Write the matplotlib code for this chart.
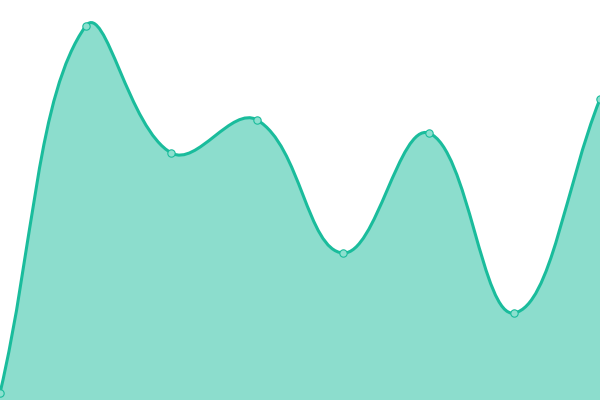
import numpy as np
import matplotlib
matplotlib.use("Agg")
import matplotlib.pyplot as plt
from matplotlib.path import Path
from matplotlib.patches import PathPatch

labels = ["A", "B", "C", "D", "E", "F", "G", "H"]
values = [7, 374, 247, 280, 147, 267, 87, 301]

LINE = "#1abc9c"
FILL = (26/255, 188/255, 156/255, 0.5)
TENSION = 0.4

W, H = 600, 400
fig = plt.figure(figsize=(6, 4), dpi=100)
ax = fig.add_axes([0, 0, 1, 1])
ax.set_xlim(0, W)
ax.set_ylim(0, H)
ax.axis("off")

n = len(values)
xs = np.array([i * W / (n - 1) for i in range(n)], dtype=float)
ys = np.array(values, dtype=float)
pts = np.column_stack([xs, ys])

# Chart.js style spline control points
cps_prev = []
cps_next = []
for i in range(n):
    p0 = pts[i - 1] if i > 0 else pts[i]
    p1 = pts[i]
    p2 = pts[i + 1] if i < n - 1 else pts[i]
    d01 = np.hypot(*(p1 - p0))
    d12 = np.hypot(*(p2 - p1))
    s01 = d01 / (d01 + d12) if (d01 + d12) else 0
    s12 = d12 / (d01 + d12) if (d01 + d12) else 0
    fa = TENSION * s01
    fb = TENSION * s12
    cp_prev = p1 - fa * (p2 - p0)
    cp_next = p1 + fb * (p2 - p0)
    cp_prev = np.clip(cp_prev, [0, 0], [W, H])
    cp_next = np.clip(cp_next, [0, 0], [W, H])
    cps_prev.append(cp_prev)
    cps_next.append(cp_next)

verts = [tuple(pts[0])]
codes = [Path.MOVETO]
for i in range(n - 1):
    verts += [tuple(cps_next[i]), tuple(cps_prev[i + 1]), tuple(pts[i + 1])]
    codes += [Path.CURVE4] * 3

line_path = Path(verts, codes)
fill_verts = verts + [(xs[-1], 0), (xs[0], 0), verts[0]]
fill_codes = codes + [Path.LINETO, Path.LINETO, Path.CLOSEPOLY]
fill_path = Path(fill_verts, fill_codes)

ax.add_patch(PathPatch(fill_path, facecolor=FILL, edgecolor="none", zorder=1))
ax.add_patch(PathPatch(line_path, facecolor="none", edgecolor=LINE, lw=2.2, zorder=2,
                       capstyle="round", joinstyle="round"))
ax.scatter(xs, ys, s=28, facecolor="#8ce0cf", edgecolor=LINE, linewidths=0.8, zorder=3,
           clip_on=False)

fig.savefig("out.png", dpi=100)
